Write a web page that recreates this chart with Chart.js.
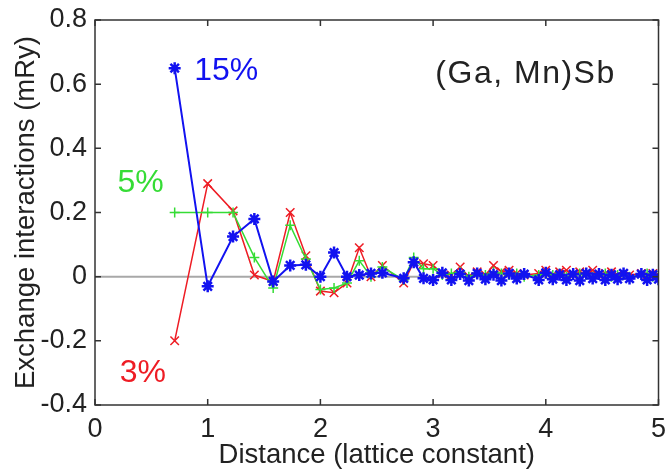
<!DOCTYPE html>
<html>
<head>
<meta charset="utf-8">
<script src="https://cdn.jsdelivr.net/npm/chart.js@4"></script>
<style>
  html, body { margin: 0; padding: 0; background: #fff; }
  #wrap { width: 667px; height: 472px; }
</style>
</head>
<body>
<div id="wrap"><canvas id="chart" width="667" height="472"></canvas></div>
<script>
// shell distances (lattice constant)
var distance = [0.707, 1.000, 1.225, 1.414, 1.581, 1.732, 1.871, 2.000, 2.121, 2.236,
  2.345, 2.449, 2.550, 2.739, 2.828, 2.915, 3.000, 3.082, 3.162, 3.240,
  3.317, 3.391, 3.464, 3.536, 3.606, 3.674, 3.742, 3.808, 3.937, 4.000,
  4.062, 4.123, 4.183, 4.243, 4.301, 4.359, 4.416, 4.472, 4.528, 4.583,
  4.637, 4.690, 4.743, 4.848, 4.899, 4.950, 5.000];

// exchange interactions (mRy)
var mn15 = [0.65, -0.03, 0.125, 0.18, -0.015, 0.035, 0.037, 0.0, 0.075, 0.0,
  0.005, 0.01, 0.012, -0.005, 0.045, -0.005, -0.01, 0.012, -0.01, 0.008,
  -0.012, 0.01, -0.008, 0.006, -0.012, 0.01, -0.006, 0.008, -0.01, 0.012,
  -0.008, 0.006, -0.01, 0.008, -0.012, 0.01, -0.006, 0.008, -0.01, 0.006,
  -0.008, 0.01, -0.006, 0.008, -0.01, 0.006, -0.008];
var mn5 = [0.20, 0.20, 0.20, 0.06, -0.035, 0.16, 0.055, -0.04, -0.035, -0.02,
  0.05, 0.0, 0.03, -0.01, 0.06, 0.025, 0.025, 0.005, 0.01, 0.015,
  0.0, 0.01, 0.005, 0.015, 0.01, 0.005, 0.01, 0.0, 0.005, 0.01,
  0.005, 0.01, 0.0, 0.005, 0.01, 0.005, 0.0, 0.005, 0.01, 0.0,
  0.005, 0.005, 0.0, 0.005, 0.01, 0.0, 0.005];
var mn3 = [-0.20, 0.29, 0.205, 0.005, -0.015, 0.20, 0.065, -0.045, -0.05, -0.02,
  0.09, 0.0, 0.035, -0.02, 0.045, 0.04, 0.035, 0.01, 0.005, 0.03,
  0.0, 0.015, 0.005, 0.035, 0.015, 0.02, 0.01, 0.005, 0.01, 0.02,
  0.005, 0.015, 0.02, 0.005, 0.015, 0.01, 0.02, 0.005, 0.01, 0.015,
  0.005, 0.01, 0.005, 0.01, 0.005, 0.01, 0.005];

var xTicks = ["0", "1", "2", "3", "4", "5"];
var yTicks = ["-0.4", "-0.2", "0", "0.2", "0.4", "0.6", "0.8"];

var RED = "#ee1c24";
var GREEN = "#35dc35";
var BLUE = "#1212f0";
var FONT = "'Liberation Sans', Arial, Helvetica, sans-serif";

function pts(values) {
  return distance.map(function (d, i) {
    return { x: d, y: values[i] };
  });
}

// text labels in data coordinates
var notes = [
  { text: "15%", x: 0.88, y: 0.64, color: BLUE, spacing: 0 },
  { text: "5%", x: 0.2, y: 0.29, color: GREEN, spacing: 0 },
  { text: "3%", x: 0.22, y: -0.3, color: RED, spacing: 0 },
  { text: "(Ga, Mn)Sb", x: 3.02, y: 0.63, color: "#222", spacing: 1.5 },
];

// MATLAB-style box, inward ticks, zero line and text
var matlabAxes = {
  id: "matlabAxes",
  beforeDatasetsDraw: function (chart) {
    var ctx = chart.ctx;
    var a = chart.chartArea;
    var y0 = chart.scales.y.getPixelForValue(0);
    ctx.save();
    ctx.strokeStyle = "#a8a8a8";
    ctx.lineWidth = 2;
    ctx.beginPath();
    ctx.moveTo(a.left, y0);
    ctx.lineTo(a.right, y0);
    ctx.stroke();
    ctx.restore();
  },
  afterDatasetsDraw: function (chart) {
    var ctx = chart.ctx;
    var a = chart.chartArea;
    var sx = chart.scales.x;
    var sy = chart.scales.y;
    var len = 6;
    ctx.save();
    ctx.strokeStyle = "#333";
    ctx.lineWidth = 1.5;
    ctx.strokeRect(a.left, a.top, a.right - a.left, a.bottom - a.top);
    ctx.beginPath();
    xTicks.forEach(function (t) {
      var px = sx.getPixelForValue(parseFloat(t));
      ctx.moveTo(px, a.bottom);
      ctx.lineTo(px, a.bottom - len);
      ctx.moveTo(px, a.top);
      ctx.lineTo(px, a.top + len);
    });
    yTicks.forEach(function (t) {
      var py = sy.getPixelForValue(parseFloat(t));
      ctx.moveTo(a.left, py);
      ctx.lineTo(a.left + len, py);
      ctx.moveTo(a.right, py);
      ctx.lineTo(a.right - len, py);
    });
    ctx.stroke();

    ctx.font = "32px " + FONT;
    ctx.textBaseline = "middle";
    ctx.textAlign = "left";
    notes.forEach(function (n) {
      ctx.fillStyle = n.color;
      ctx.letterSpacing = n.spacing + "px";
      ctx.fillText(n.text, sx.getPixelForValue(n.x), sy.getPixelForValue(n.y));
    });
    ctx.restore();
  },
};

var chartCanvas = document.getElementById("chart").getContext("2d");

new Chart(chartCanvas, {
  type: "scatter",
  data: {
    datasets: [
      {
        label: "15%",
        data: pts(mn15),
        showLine: true,
        borderColor: BLUE,
        backgroundColor: BLUE,
        borderWidth: 2,
        pointStyle: "star",
        pointRadius: 6,
        pointBorderWidth: 2.5,
      },
      {
        label: "5%",
        data: pts(mn5),
        showLine: true,
        borderColor: GREEN,
        backgroundColor: GREEN,
        borderWidth: 1.5,
        pointStyle: "cross",
        pointRadius: 5,
        pointBorderWidth: 1.5,
      },
      {
        label: "3%",
        data: pts(mn3),
        showLine: true,
        borderColor: RED,
        backgroundColor: RED,
        borderWidth: 1.5,
        pointStyle: "crossRot",
        pointRadius: 6,
        pointBorderWidth: 1.5,
      },
    ],
  },
  options: {
    responsive: false,
    animation: false,
    layout: { padding: { top: 20, right: 5, left: 0, bottom: 0 } },
    scales: {
      x: {
        type: "linear",
        min: 0,
        max: 5,
        grid: { display: false, drawTicks: false },
        border: { display: false },
        ticks: {
          stepSize: 1,
          color: "#222",
          padding: 8,
          maxRotation: 0,
          font: { family: FONT, size: 27 },
          callback: function (value) {
            return xTicks[Math.round(value)];
          },
        },
        title: {
          display: true,
          text: "Distance (lattice constant)",
          color: "#222",
          font: { family: FONT, size: 27.5 },
          padding: { top: 0, bottom: 0 },
        },
        afterFit: function (s) {
          s.height = 67;
          s.paddingLeft = 0;
          s.paddingRight = 0;
        },
      },
      y: {
        min: -0.4,
        max: 0.8,
        grid: { display: false, drawTicks: false },
        border: { display: false },
        ticks: {
          stepSize: 0.2,
          color: "#222",
          padding: 8,
          font: { family: FONT, size: 27 },
          callback: function (value) {
            return yTicks[Math.round((value + 0.4) / 0.2)];
          },
        },
        title: {
          display: true,
          text: "Exchange interactions (mRy)",
          color: "#222",
          font: { family: FONT, size: 27.5 },
          padding: { top: 10, bottom: 0 },
        },
        afterFit: function (s) {
          s.width = 95;
          s.paddingTop = 0;
          s.paddingBottom = 0;
        },
      },
    },
    plugins: {
      legend: { display: false },
      tooltip: { enabled: false },
    },
  },
  plugins: [matlabAxes],
});
</script>
</body>
</html>
